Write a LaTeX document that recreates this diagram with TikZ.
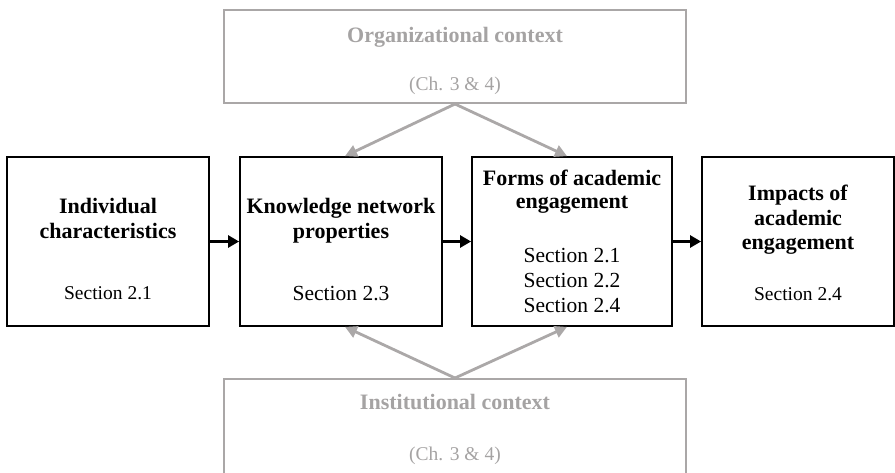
\documentclass[tikz,border=0pt]{standalone}
\usepackage{fontspec}
\setmainfont{Liberation Serif}
\usetikzlibrary{arrows.meta}
\definecolor{ctxline}{HTML}{AAA7A7}
\definecolor{ctxtext}{HTML}{A5A3A3}
\definecolor{ctxarrow}{HTML}{ABA8A8}
\begin{document}
\begin{tikzpicture}[x=1pt,y=-1pt,
  stagebox/.style={draw=black, line width=1.8pt, inner sep=0pt},
  ctxbox/.style={draw=ctxline, line width=2pt, inner sep=0pt},
  headtxt/.style={anchor=base, inner sep=0pt, font=\fontsize{22}{26}\selectfont\bfseries},
  sectxt/.style={anchor=base, inner sep=0pt, font=\fontsize{19.5}{24}\selectfont},
  seclarge/.style={anchor=base, inner sep=0pt, font=\fontsize{21.5}{25}\selectfont},
  ctxhead/.style={headtxt, text=ctxtext},
  ctxsub/.style={sectxt, text=ctxtext},
  flow/.style={line width=2.6pt, -{Triangle[length=11pt,width=12pt]}},
  influence/.style={draw=ctxarrow, line width=2.8pt, -{Triangle[length=12pt,width=12pt]}}]
\useasboundingbox (0,0) rectangle (895,472);

% context boxes
\node[ctxbox, minimum width=462pt, minimum height=93pt] (org) at (455,56.5) {};
\node[ctxbox, minimum width=462pt, minimum height=96pt] (inst) at (455,427) {};

% stage boxes
\node[stagebox, minimum width=202pt, minimum height=169pt] (ind) at (108,241.5) {};
\node[stagebox, minimum width=202pt, minimum height=169pt] (knp) at (341,241.5) {};
\node[stagebox, minimum width=200pt, minimum height=169pt] (forms) at (572,241.5) {};
\node[stagebox, minimum width=192pt, minimum height=169pt] (imp) at (798,241.5) {};

% context texts
\node[ctxhead] (orgt1) at (455,42) {Organizational context};
\node[ctxsub] (orgt2) at (455,90) {(Ch. 3 \& 4)};
\node[ctxhead] (instt1) at (455,409) {Institutional context};
\node[ctxsub] (instt2) at (455,460) {(Ch. 3 \& 4)};

% stage texts
\node[headtxt] (indt1) at (108,213) {Individual};
\node[headtxt] (indt2) at (108,238) {characteristics};
\node[sectxt] (indt3) at (108,299) {Section 2.1};

\node[headtxt] (knpt1) at (341,213) {Knowledge network};
\node[headtxt] (knpt2) at (341,238) {properties};
\node[seclarge] (knpt3) at (341,300) {Section 2.3};

\node[headtxt] (formst1) at (572,185) {Forms of academic};
\node[headtxt] (formst2) at (572,208) {engagement};
\node[seclarge] (formst3) at (572,262) {Section 2.1};
\node[seclarge] (formst4) at (572,287) {Section 2.2};
\node[seclarge] (formst5) at (572,312) {Section 2.4};

\node[headtxt] (impt1) at (798,200) {Impacts of};
\node[headtxt] (impt2) at (798,225) {academic};
\node[headtxt] (impt3) at (798,249) {engagement};
\node[sectxt] (impt4) at (798,300) {Section 2.4};

% main flow
\draw[flow] (ind.east) -- (knp.west);
\draw[flow] (knp.east) -- (forms.west);
\draw[flow] (forms.east) -- (imp.west);

% context influences
\draw[influence] (org.south) -- ([xshift=4pt]knp.north);
\draw[influence] (org.south) -- ([xshift=-5pt]forms.north);
\draw[influence] (inst.north) -- ([xshift=4pt]knp.south);
\draw[influence] (inst.north) -- ([xshift=-5pt]forms.south);
\end{tikzpicture}
\end{document}
